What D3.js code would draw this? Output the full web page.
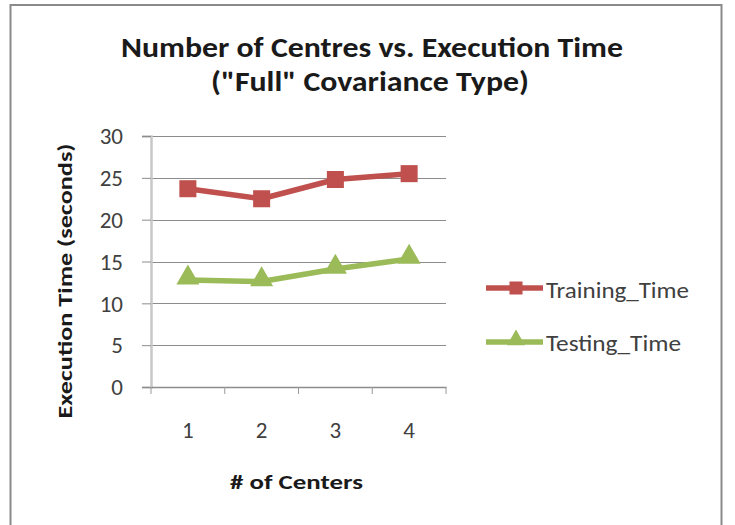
<!DOCTYPE html>
<html><head><meta charset="utf-8">
<script src="https://cdn.jsdelivr.net/npm/d3@7"></script>
<style>
html,body{margin:0;padding:0;background:#fff;}
text{font-family:Carlito,"Open Sans","Liberation Sans",sans-serif;}
</style></head>
<body><svg id="c" width="735" height="525"></svg>
<script>
const categories = ["1","2","3","4"];
const trainingTime = [23.7, 22.5, 24.8, 25.5];
const testingTime = [12.8, 12.6, 14.1, 15.3];
const yTicks = [0,5,10,15,20,25,30];
const seriesNames = ["Training_Time","Testing_Time"];
const titleLines = ["Number of Centres vs. Execution Time", "(\"Full\" Covariance Type)"];
const xTitle = "# of Centers";
const yTitle = "Execution Time (seconds)";

const svg = d3.select("#c");
const red = "#C0504D", green = "#9BBB59";
const FF = 'Carlito,"Open Sans","Liberation Sans",sans-serif';

// chart border
svg.append("rect").attr("x",10.5).attr("y",5).attr("width",711).attr("height",540)
  .attr("fill","#fff").attr("stroke","#8a8a8a").attr("stroke-width",2);

const L=151, R=446, T=136, B=387;
const x = d3.scaleBand().domain(categories).range([L,R]);
const y = d3.scaleLinear().domain([0,30]).range([B,T]);

function fitText(sel, w){ sel.attr("textLength",w).attr("lengthAdjust","spacingAndGlyphs"); }

// title
const tl = [{t:titleLines[0],cx:372,by:57,w:502},{t:titleLines[1],cx:370,by:91,w:318}];
tl.forEach(d=>{
  svg.append("text").attr("x",d.cx-d.w/2).attr("y",d.by).text(d.t)
    .attr("font-size",28).attr("font-weight","bold").attr("fill","#1a1a1a").call(fitText,d.w);
});

// gridlines
svg.append("g").selectAll("line").data(yTicks.filter(v=>v>0)).join("line")
  .attr("x1",L).attr("x2",R).attr("y1",d=>Math.round(y(d))+0.5).attr("y2",d=>Math.round(y(d))+0.5)
  .attr("stroke","#8c8c8c").attr("stroke-width",1);

// y axis
const ya = svg.append("g").attr("transform",`translate(${L},0)`)
  .call(d3.axisLeft(y).tickValues(yTicks).tickSize(9).tickPadding(28));
ya.select(".domain").attr("stroke","#c8c8c8").attr("stroke-width",2.5);
ya.selectAll(".tick line").attr("stroke","#8c8c8c");
ya.selectAll(".tick text").attr("font-size",23).attr("fill","#404040").attr("font-family",FF)
  .attr("x",-28).attr("dy","0.34em");

// x axis
const xa = svg.append("g").attr("transform",`translate(0,${B})`)
  .call(d3.axisBottom(x).tickSize(0).tickPadding(0));
xa.select(".domain").attr("stroke","#8c8c8c").attr("stroke-width",1.5);
xa.selectAll(".tick text").attr("font-size",23).attr("fill","#404040").attr("dy",null)
  .attr("y",51).attr("font-family",FF);
const bounds = categories.map(c=>x(c)).concat([R]);
xa.append("g").selectAll("line").data(bounds).join("line")
  .attr("x1",d=>d).attr("x2",d=>d).attr("y1",0).attr("y2",7).attr("stroke","#9a9a9a");

// axis titles
svg.append("text").attr("x",296.5-66.5).attr("y",489).text(xTitle)
  .attr("font-size",20).attr("font-weight","bold").attr("fill","#1a1a1a").call(fitText,133);
svg.append("text").attr("transform","translate(72,281) rotate(-90)").attr("x",-137.5).attr("y",0)
  .text(yTitle).attr("font-size",20).attr("font-weight","bold").attr("fill","#1a1a1a").call(fitText,275);

// lines
const line = d3.line().x((d,i)=>x(categories[i])+x.bandwidth()/2).y(d=>y(d));
svg.append("path").attr("d",line(trainingTime)).attr("fill","none").attr("stroke",red).attr("stroke-width",5.5).attr("stroke-linejoin","round");
svg.append("path").attr("d",line(testingTime)).attr("fill","none").attr("stroke",green).attr("stroke-width",5.5).attr("stroke-linejoin","round");

const sq = d3.symbol().type(d3.symbolSquare).size(290);
const tri = d3.symbol().type(d3.symbolTriangle).size(230);
svg.append("g").selectAll("path").data(trainingTime).join("path")
  .attr("d",sq).attr("fill",red)
  .attr("transform",(d,i)=>`translate(${x(categories[i])+x.bandwidth()/2},${y(d)})`);
svg.append("g").selectAll("path").data(testingTime).join("path")
  .attr("d",tri).attr("fill",green)
  .attr("transform",(d,i)=>`translate(${x(categories[i])+x.bandwidth()/2},${y(d)-2})`);

// legend
const leg = [{n:seriesNames[0],c:red,ly:288,by:298,w:143,dy:0},{n:seriesNames[1],c:green,ly:342,by:351,w:135,dy:-2}];
leg.forEach((d,i)=>{
  svg.append("line").attr("x1",486).attr("x2",543).attr("y1",d.ly).attr("y2",d.ly).attr("stroke",d.c).attr("stroke-width",5.5);
  svg.append("path").attr("d",i===0?d3.symbol().type(d3.symbolSquare).size(170)():d3.symbol().type(d3.symbolTriangle).size(140)())
    .attr("fill",d.c).attr("transform",`translate(516,${d.ly+d.dy})`);
  svg.append("text").attr("x",546).attr("y",d.by).text(d.n).attr("font-size",22).attr("fill","#404040").call(fitText,d.w);
});
</script></body></html>
